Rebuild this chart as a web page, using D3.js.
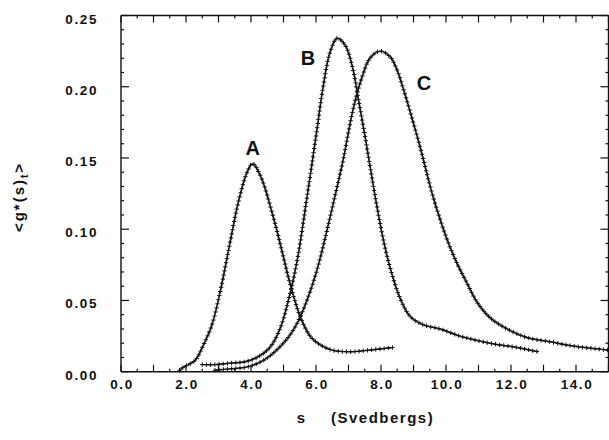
<!DOCTYPE html>
<html>
<head>
<meta charset="utf-8">
<script src="https://cdn.jsdelivr.net/npm/d3@7"></script>
<style>
    body { margin: 0; background: #fff; }
    svg text { font-family: "Liberation Sans", Arial, sans-serif; font-weight: bold; fill: #111; }
</style>
</head>
<body>
<svg id="chart" width="609" height="440"></svg>
<script>
// sedimentation coefficient (s) vs <g*(s)t>
var curveA = [
    [1.80, 0.001], [1.91, 0.003], [2.28, 0.008], [2.52, 0.018], [2.80, 0.033],
    [3.05, 0.056], [3.35, 0.090], [3.60, 0.118], [3.88, 0.140], [4.05, 0.146],
    [4.30, 0.137], [4.68, 0.109], [4.95, 0.085], [5.20, 0.062], [5.51, 0.039],
    [5.82, 0.025], [6.12, 0.019], [6.52, 0.015], [7.05, 0.014], [7.57, 0.015],
    [8.37, 0.017]
];
var curveB = [
    [2.50, 0.005], [2.89, 0.005], [3.35, 0.006], [3.82, 0.007], [4.18, 0.010],
    [4.58, 0.017], [4.89, 0.030], [5.15, 0.050], [5.42, 0.078], [5.72, 0.122],
    [6.03, 0.170], [6.22, 0.200], [6.43, 0.224], [6.65, 0.234], [6.90, 0.229],
    [7.14, 0.212], [7.29, 0.193], [7.51, 0.165], [7.82, 0.123],
    [8.06, 0.094], [8.28, 0.073], [8.58, 0.052], [8.89, 0.039], [9.29, 0.033],
    [9.82, 0.030], [10.43, 0.025], [11.35, 0.020], [12.18, 0.017], [12.83, 0.014]
];
var curveC = [
    [2.89, 0.001], [3.35, 0.002], [3.82, 0.003], [4.22, 0.006], [4.58, 0.011],
    [5.11, 0.023], [5.42, 0.034], [5.72, 0.050], [6.00, 0.069], [6.22, 0.088],
    [6.52, 0.117], [6.83, 0.148], [7.14, 0.184], [7.42, 0.207],
    [7.66, 0.220], [7.97, 0.225], [8.28, 0.221], [8.49, 0.212], [8.68, 0.199],
    [8.89, 0.183], [9.20, 0.158], [9.60, 0.123], [10.03, 0.093], [10.34, 0.076],
    [10.65, 0.062], [10.95, 0.049], [11.35, 0.038], [11.88, 0.030], [12.49, 0.024],
    [13.20, 0.021], [13.91, 0.018], [14.65, 0.016], [15.05, 0.015]
];
var curveNames = ['A', 'B', 'C'];
var nameSpots = [[4.05, 0.152], [5.75, 0.215], [9.32, 0.198]];
var xTickLabels = ['0.0', '2.0', '4.0', '6.0', '8.0', '10.0', '12.0', '14.0'];
var yTickLabels = ['0.00', '0.05', '0.10', '0.15', '0.20', '0.25'];

(function()
{
    var svg = d3.select('#chart'),
        x = d3.scaleLinear().domain([0, 15]).range([121, 608.5]),
        y = d3.scaleLinear().domain([0, 0.25]).range([371.7, 15.5]),
        ink = '#111';

    var line = d3.line()
        .x(function(d) { return x(d[0]); })
        .y(function(d) { return y(d[1]); })
        .curve(d3.curveCatmullRom.alpha(0.5));

    // frame lines
    var frame = svg.append('g').attr('stroke', ink).attr('stroke-width', 1.4).attr('fill', 'none');
    frame.append('line').attr('x1', x(0)).attr('x2', x(15)).attr('y1', y(0)).attr('y2', y(0));
    frame.append('line').attr('x1', x(0)).attr('x2', x(15)).attr('y1', y(0.25)).attr('y2', y(0.25));
    frame.append('line').attr('x1', x(0)).attr('x2', x(0)).attr('y1', y(0)).attr('y2', y(0.25));
    frame.append('line').attr('x1', x(15)).attr('x2', x(15)).attr('y1', y(0)).attr('y2', y(0.25));

    // inward ticks on all four sides
    var xt = d3.range(0, 30.5, 1).map(function(i) { return i / 2; }),
        yt = d3.range(0, 25.5, 1).map(function(i) { return i / 100; });

    var ticks = svg.append('g').attr('stroke', ink).attr('stroke-width', 1.2);
    xt.forEach(function(v)
    {
        var len = (Math.round(v * 2) % 2 === 0) ? 7 : 3;
        ticks.append('line').attr('x1', x(v)).attr('x2', x(v)).attr('y1', y(0)).attr('y2', y(0) - len);
        ticks.append('line').attr('x1', x(v)).attr('x2', x(v)).attr('y1', y(0.25)).attr('y2', y(0.25) + len);
    });
    yt.forEach(function(v)
    {
        var len = (Math.round(v * 100) % 5 === 0) ? 8 : 3;
        ticks.append('line').attr('x1', x(0)).attr('x2', x(0) + len).attr('y1', y(v)).attr('y2', y(v));
        ticks.append('line').attr('x1', x(15)).attr('x2', x(15) - len).attr('y1', y(v)).attr('y2', y(v));
    });

    // tick labels
    svg.append('g').selectAll('text').data(xTickLabels).enter().append('text')
        .attr('x', function(d) { return x(+d) + 1; })
        .attr('y', 389)
        .attr('text-anchor', 'middle')
        .attr('font-size', 13.5)
        .attr('letter-spacing', 1.6)
        .text(function(d) { return d; });

    svg.append('g').selectAll('text').data(yTickLabels).enter().append('text')
        .attr('x', 98)
        .attr('y', function(d) { return y(+d) + 8; })
        .attr('text-anchor', 'end')
        .attr('font-size', 13.5)
        .attr('letter-spacing', 1.6)
        .text(function(d) { return d; });

    // axis titles
    svg.append('text').attr('x', 301).attr('y', 423).attr('text-anchor', 'middle')
        .attr('font-size', 15).text('s');
    svg.append('text').attr('x', 331).attr('y', 423)
        .attr('font-size', 15).attr('letter-spacing', 1.5).text('(Svedbergs)');

    var yTitle = svg.append('text')
        .attr('transform', 'translate(24,197) rotate(-90)')
        .attr('text-anchor', 'middle')
        .attr('font-size', 15)
        .attr('letter-spacing', 2);
    yTitle.append('tspan').text('<g*(s)');
    yTitle.append('tspan').attr('font-size', 10).attr('dy', 4).text('t');
    yTitle.append('tspan').attr('dy', -4).text('>');

    // curves with "+" markers laid along each path
    var plot = svg.append('g');
    [curveA, curveB, curveC].forEach(function(data)
    {
        var path = plot.append('path').datum(data)
            .attr('d', line)
            .attr('fill', 'none')
            .attr('stroke', ink)
            .attr('stroke-width', 1.4);

        var node = path.node(),
            total = node.getTotalLength(),
            d = '';
        for (var l = 0; l <= total; l += 4.2) {
            var p = node.getPointAtLength(l);
            d += 'M' + (p.x - 2.2) + ',' + p.y + 'h4.4M' + p.x + ',' + (p.y - 2.2) + 'v4.4';
        }
        plot.append('path').attr('d', d).attr('stroke', ink).attr('stroke-width', 1).attr('fill', 'none');
    });

    // curve names
    svg.append('g').selectAll('text').data(curveNames).enter().append('text')
        .attr('x', function(d, i) { return x(nameSpots[i][0]); })
        .attr('y', function(d, i) { return y(nameSpots[i][1]); })
        .attr('text-anchor', 'middle')
        .attr('font-size', 20)
        .text(function(d) { return d; });
})();
</script>
</body>
</html>
